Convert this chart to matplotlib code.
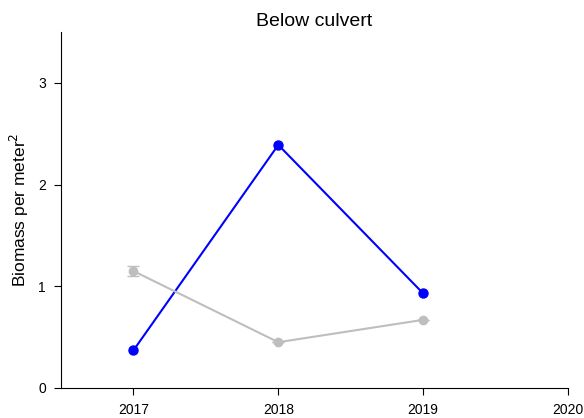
import matplotlib
matplotlib.use("Agg")
import matplotlib.pyplot as plt

plt.rcParams['font.family'] = ['Liberation Sans', 'DejaVu Sans']

# biomass per year for the two groups
years = [2017, 2018, 2019]
blue_vals = [0.37, 2.39, 0.93]
grey_vals = [1.15, 0.45, 0.67]
grey_err = [0.045, 0.0, 0.0]

fig = plt.figure(figsize=(5.84, 4.18), dpi=100)
ax = fig.add_axes([0.1045, 0.0718, 0.8681, 0.8516])

ax.errorbar(years, grey_vals, yerr=grey_err, color='#bebebe', marker='o',
            markersize=6, linewidth=1.5, capsize=4, elinewidth=1.2)
ax.plot(years, blue_vals, color='#0000ff', marker='o', markersize=6.5,
        linewidth=1.5)

ax.set_xlim(2016.5, 2020)
ax.set_ylim(0, 3.5)
ax.set_xticks([2017, 2018, 2019, 2020])
ax.set_yticks([0, 1, 2, 3])
ax.tick_params(labelsize=10, length=5, direction='out', pad=6)
ax.spines['top'].set_visible(False)
ax.spines['right'].set_visible(False)
ax.set_ylabel('Biomass per meter$^2$', fontsize=12.5, labelpad=5)
ax.set_title('Below culvert', fontsize=14, pad=4)

fig.savefig('out.png', dpi=100)
